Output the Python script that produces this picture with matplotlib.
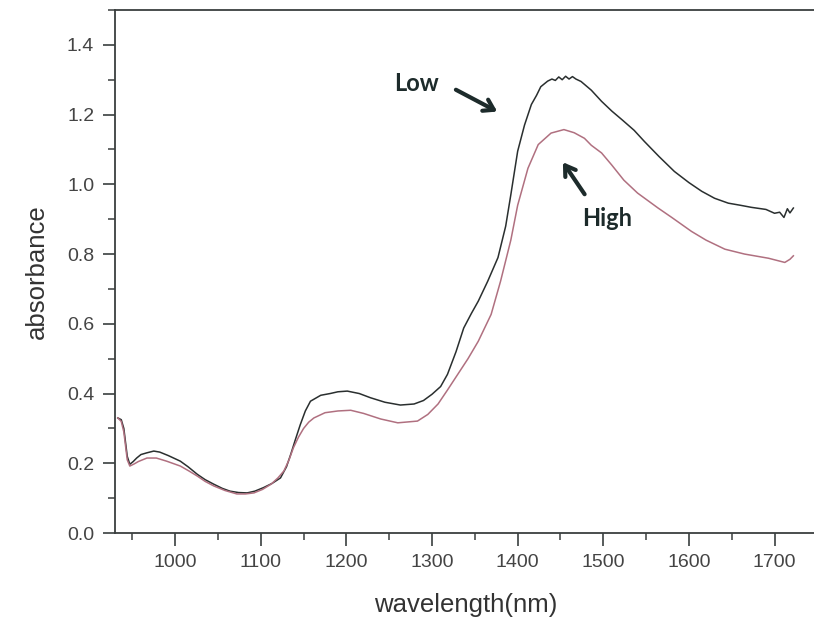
import matplotlib
matplotlib.use("Agg")
import matplotlib.pyplot as plt
from matplotlib.ticker import MultipleLocator

# wavelength (nm) and absorbance
wl_low = [933, 937, 940, 944, 947, 951, 955, 960, 967, 975, 982, 992, 1006, 1015, 1026,
          1035, 1045, 1055, 1064, 1074, 1084, 1093, 1103, 1113, 1123, 1130, 1135, 1140,
          1146, 1152, 1158, 1170, 1181, 1190, 1201, 1215, 1228, 1245, 1263, 1279, 1290,
          1300, 1310, 1318, 1328, 1337, 1346, 1354, 1365, 1377, 1386, 1392, 1400, 1408,
          1416, 1422, 1427, 1435, 1440, 1444, 1448, 1452, 1456, 1460, 1464, 1468, 1474,
          1486, 1498, 1510, 1522, 1536, 1548, 1565, 1583, 1600, 1615, 1630, 1646, 1660,
          1673, 1690, 1700, 1706, 1711, 1715, 1718, 1722]
low = [0.33, 0.325, 0.30, 0.22, 0.197, 0.205, 0.215, 0.225, 0.23, 0.235, 0.232, 0.222,
       0.206, 0.19, 0.168, 0.153, 0.14, 0.128, 0.12, 0.116, 0.115, 0.12, 0.13, 0.142,
       0.158, 0.19, 0.226, 0.265, 0.31, 0.35, 0.378, 0.395, 0.40, 0.405, 0.407, 0.40,
       0.388, 0.375, 0.367, 0.37, 0.38, 0.398, 0.42, 0.455, 0.52, 0.588, 0.63, 0.665,
       0.722, 0.79, 0.88, 0.97, 1.095, 1.17, 1.229, 1.255, 1.28, 1.296, 1.302, 1.298,
       1.308, 1.300, 1.310, 1.302, 1.309, 1.302, 1.295, 1.27, 1.238, 1.21, 1.185, 1.155,
       1.123, 1.08, 1.037, 1.005, 0.98, 0.96, 0.946, 0.94, 0.934, 0.928, 0.917, 0.92,
       0.905, 0.93, 0.918, 0.932]

wl_high = [933, 937, 940, 944, 947, 952, 957, 967, 978, 990, 1006, 1016, 1026, 1035,
           1045, 1058, 1072, 1082, 1092, 1102, 1112, 1120, 1127, 1133, 1138, 1144, 1150,
           1156, 1162, 1175, 1190, 1205, 1220, 1240, 1260, 1283, 1295, 1307, 1318, 1330,
           1342, 1354, 1369, 1380, 1392, 1396, 1400, 1412, 1424, 1439, 1454, 1466, 1478,
           1486, 1498, 1510, 1524, 1540, 1564, 1580, 1603, 1620, 1642, 1665, 1693, 1712,
           1718, 1722]
high = [0.33, 0.32, 0.29, 0.21, 0.192, 0.198, 0.205, 0.215, 0.215, 0.206, 0.192, 0.178,
        0.163, 0.148, 0.135, 0.122, 0.112, 0.112, 0.115, 0.125, 0.14, 0.158, 0.178, 0.21,
        0.244, 0.275, 0.30, 0.318, 0.33, 0.345, 0.35, 0.352, 0.343, 0.327, 0.316, 0.321,
        0.34, 0.37, 0.41, 0.455, 0.50, 0.55, 0.627, 0.722, 0.84, 0.89, 0.94, 1.046, 1.114,
        1.147, 1.157, 1.148, 1.132, 1.112, 1.09, 1.055, 1.012, 0.975, 0.932, 0.905, 0.865,
        0.84, 0.814, 0.80, 0.788, 0.776, 0.785, 0.795]

x_ticks = [1000, 1100, 1200, 1300, 1400, 1500, 1600, 1700]
y_ticks = [0.0, 0.2, 0.4, 0.6, 0.8, 1.0, 1.2, 1.4]

plt.rcParams['font.family'] = ['Liberation Sans', 'DejaVu Sans']

fig = plt.figure(figsize=(8.14, 6.18), dpi=100)
ax = fig.add_axes([115 / 814, (618 - 533) / 618, (814 - 115) / 814 + 0.002, (533 - 10) / 618])

ax.plot(wl_low, low, color='#2a2f2f', lw=1.1)
ax.plot(wl_high, high, color='#b07080', lw=1.1)

ax.set_xlim(929.7, 1748)
ax.set_ylim(0.0, 1.5)
ax.set_xticks(x_ticks)
ax.set_yticks(y_ticks)
ax.set_yticklabels([f"{v:.1f}" for v in y_ticks])
ax.xaxis.set_minor_locator(MultipleLocator(50))
ax.yaxis.set_minor_locator(MultipleLocator(0.1))

spine_c = '#3a3f3f'
for s in ['left', 'bottom', 'top']:
    ax.spines[s].set_color(spine_c)
    ax.spines[s].set_linewidth(1.3)
ax.spines['right'].set_visible(False)

ax.tick_params(axis='both', which='major', direction='out', length=9, width=1.2,
               colors=spine_c, labelsize=14, labelcolor='#444444')
ax.tick_params(axis='both', which='minor', direction='out', length=5, width=1.1,
               colors=spine_c)
ax.tick_params(axis='x', which='major', pad=6)
ax.tick_params(axis='y', which='major', pad=6)

ax.set_xlabel('wavelength(nm)', fontsize=18.5, color='#333333', labelpad=16)
ax.set_ylabel('absorbance', fontsize=18.5, color='#333333', labelpad=13)

txt_c = '#1d2b2b'
ax.text(1282, 1.289, 'Low', fontsize=17, fontweight='bold', family='Lato',
        color=txt_c, ha='center', va='center')
ax.text(1505, 0.903, 'High', fontsize=17, fontweight='bold', family='Lato',
        color=txt_c, ha='center', va='center')
ax.annotate('', xy=(1379, 1.205), xytext=(1325, 1.275),
            arrowprops=dict(arrowstyle='->,head_length=0.7,head_width=0.45',
                            color=txt_c, lw=3))
ax.annotate('', xy=(1451, 1.07), xytext=(1480, 0.965),
            arrowprops=dict(arrowstyle='->,head_length=0.7,head_width=0.45',
                            color=txt_c, lw=3))

fig.savefig('out.png', dpi=100)
